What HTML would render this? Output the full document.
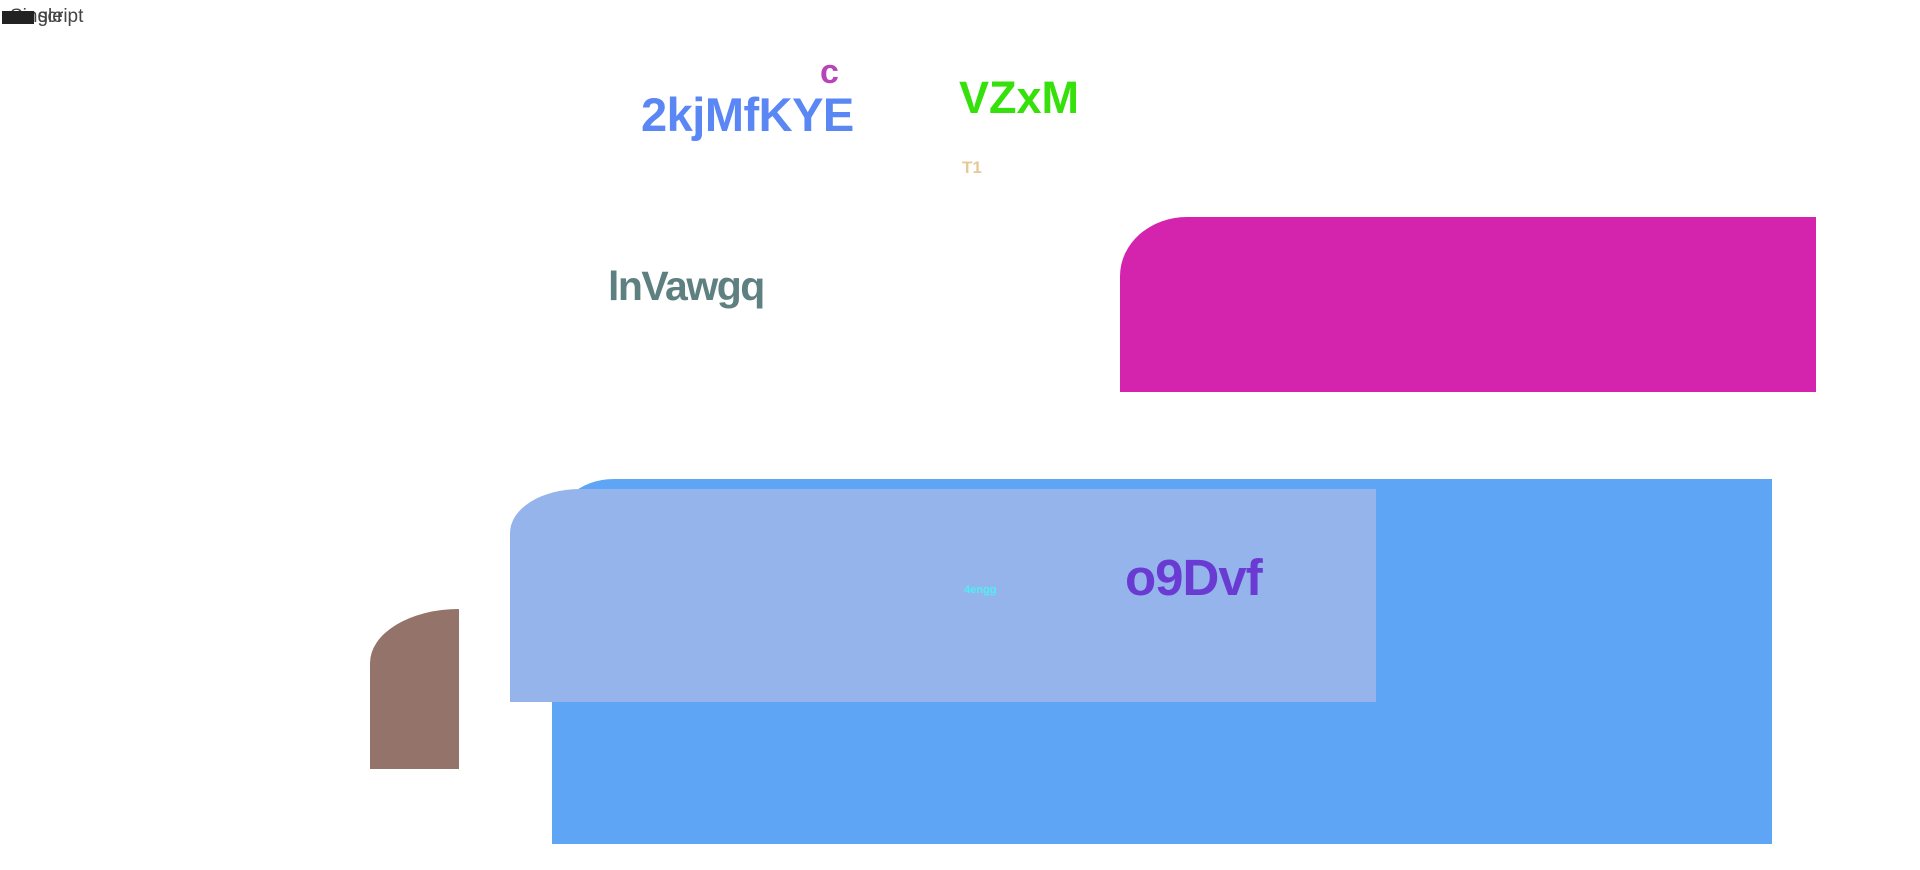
<!DOCTYPE html>
<html><head><meta charset="utf-8"><style>
html,body{margin:0;padding:0;background:#fff;width:1920px;height:870px;overflow:hidden;position:relative;font-family:"Liberation Sans",sans-serif}
.r{position:absolute}
.t{position:absolute;font-weight:bold;line-height:1;white-space:nowrap}
.s{position:absolute;font-size:19px;color:#444;line-height:1;top:7px;left:0}
</style></head><body>
<div class="s" style="left:10px">Single</div>
<div class="s" style="left:38px">script</div>
<div class="s" style="left:2px;background:#222;width:32px;height:13px;top:11px"></div>

<div class="r" style="left:1120px;top:217px;width:696px;height:175px;background:#d424ad;border-top-left-radius:67px 59px"></div>
<div class="r" style="left:552px;top:479px;width:1220px;height:365px;background:#5ea5f5;border-top-left-radius:62px 55px"></div>
<div class="r" style="left:510px;top:489px;width:866px;height:213px;background:#95b4ec;border-top-left-radius:70px 44px"></div>
<div class="r" style="left:370px;top:609px;width:89px;height:160px;background:#94746a;border-top-left-radius:89px 54px"></div>

<div class="t" style="left:641px;top:91px;font-size:47px;color:#5b87f5;letter-spacing:-0.5px">2kjMfKYE</div>
<div class="t" style="left:820px;top:55px;font-size:34px;color:#b845b8">c</div>
<div class="t" style="left:959px;top:75px;font-size:45px;color:#36e00a">VZxM</div>
<div class="t" style="left:962px;top:159px;font-size:17px;color:#e8c898">T1</div>
<div class="t" style="left:608px;top:266px;font-size:41px;color:#5f8080;letter-spacing:-1.5px">lnVawgq</div>
<div class="t" style="left:1125px;top:552px;font-size:51px;color:#6a3bd3;letter-spacing:-1px">o9Dvf</div>
<div class="t" style="left:964px;top:585px;font-size:11px;color:#4ef0f0">4engg</div>
</body></html>
